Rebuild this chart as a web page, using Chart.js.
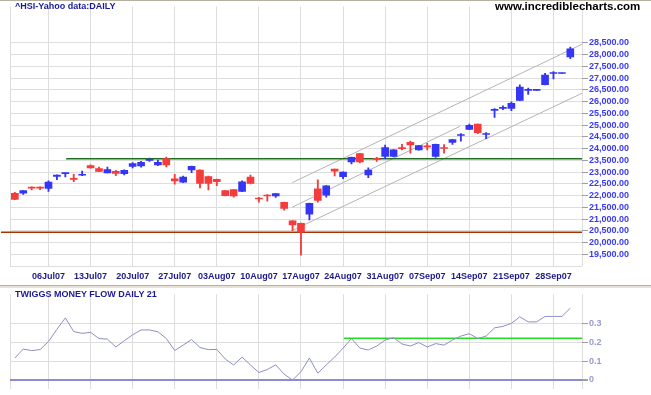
<!DOCTYPE html>
<html>
<head>
<meta charset="utf-8">
<script src="https://cdn.jsdelivr.net/npm/chart.js@4.4.0/dist/chart.umd.min.js"></script>
<style>
  html, body { margin: 0; padding: 0; background: #fff; }
  body { width: 651px; height: 395px; position: relative; overflow: hidden; font-family: 'Liberation Sans', Arial, sans-serif; }
  #priceChart { position: absolute; left: 0; top: 0; }
  #tmfChart { position: absolute; left: 0; top: 288px; }
  .txt { position: absolute; white-space: nowrap; line-height: 1; }
  #topLine { position: absolute; left: 0; top: 0; width: 651px; height: 1px; background: #b4b0a2; }
  #sepDark { position: absolute; left: 0; top: 285px; width: 651px; height: 1px; background: #b4b0a2; }
  #sepLight { position: absolute; left: 0; top: 286px; width: 651px; height: 2px; background: #e6e2d6; }
</style>
</head>
<body>
<canvas id="priceChart" width="651" height="285"></canvas>
<canvas id="tmfChart" width="651" height="107"></canvas>
<div id="topLine"></div>
<div id="sepDark"></div>
<div id="sepLight"></div>
<div class="txt" style="left:15px;top:2px;font-size:9px;font-weight:bold;color:#1a1a96;">^HSI-Yahoo data:DAILY</div>
<div class="txt" style="left:495px;top:1px;font-size:11.5px;font-weight:bold;color:#000;">www.incrediblecharts.com</div>
<div class="txt" style="left:15px;top:290px;font-size:9px;font-weight:bold;color:#1a1a96;">TWIGGS MONEY FLOW DAILY 21</div>
<script>
// weekly tick positions (trading day index) and their labels
const tickIdx = [4, 9, 14, 19, 24, 29, 34, 39, 44, 49, 54, 59, 64];
const tickLabels = ['06Jul07', '13Jul07', '20Jul07', '27Jul07', '03Aug07', '10Aug07', '17Aug07',
    '24Aug07', '31Aug07', '07Sep07', '14Sep07', '21Sep07', '28Sep07'];

const priceTicks = [19000, 19500, 20000, 20500, 21000, 21500, 22000, 22500, 23000, 23500,
    24000, 24500, 25000, 25500, 26000, 26500, 27000, 27500, 28000, 28500];
const tmfTicks = [0, 0.1, 0.2, 0.3];

const openP = [22100, 22100, 22325, 22325, 22304, 22821, 22935, 22705, 22865, 23280,
    23155, 22970, 23030, 22930, 23237, 23262, 23500, 23304, 23571, 22708,
    22571, 23096, 23083, 22804, 22696, 22208, 22250, 22179, 22792, 21870,
    22000, 21988, 21708, 20929, 20821, 21208, 22292, 22013, 23125, 22804,
    23429, 23792, 22875, 23560, 23667, 23667, 24030, 24263, 23946, 24090,
    23667, 24020, 24263, 24560, 24821, 25042, 24600, 25630, 25715, 25708,
    26054, 26480, 26480, 26721, 27200, 27200, 27904];
const highP = [22140, 22215, 22375, 22375, 22625, 22885, 22955, 22905, 23040, 23305,
    23210, 23210, 23070, 23095, 23405, 23458, 23595, 23512, 23637, 22904,
    22833, 23260, 23100, 22833, 22700, 22215, 22260, 22625, 22875, 21929,
    22042, 22090, 21720, 20940, 20830, 21680, 22667, 22430, 23130, 23010,
    23640, 23800, 23179, 23625, 24154, 23960, 24179, 24321, 24140, 24221,
    24190, 24167, 24400, 24638, 25042, 25050, 24679, 25708, 25821, 25988,
    26721, 26583, 26495, 27208, 27279, 27215, 28321];
const lowP = [21830, 22054, 22240, 22250, 22180, 22680, 22790, 22595, 22845, 23170,
    23020, 22960, 22845, 22875, 23180, 23208, 23458, 23279, 23221, 22487,
    22554, 22971, 22321, 22237, 22420, 21990, 21929, 22170, 22500, 21721,
    21763, 21917, 21375, 20500, 19460, 20958, 21721, 21929, 22833, 22721,
    23346, 23388, 22763, 23458, 23571, 23650, 23946, 23804, 23930, 23946,
    23625, 23804, 24179, 24321, 24810, 24638, 24429, 25333, 25654, 25613,
    26040, 26304, 26480, 26710, 26971, 27200, 27833];
const closeP = [21835, 22210, 22315, 22315, 22571, 22875, 22950, 22690, 22880, 23180,
    23030, 23110, 22945, 23070, 23362, 23417, 23542, 23417, 23304, 22625,
    22792, 23250, 22513, 22513, 22596, 22000, 21988, 22583, 22513, 21855,
    21980, 22083, 21458, 20750, 20446, 21667, 21792, 22417, 23042, 23000,
    23625, 23429, 23083, 23545, 24042, 23946, 24000, 24154, 24125, 24075,
    24179, 24005, 24388, 24580, 24987, 24679, 24620, 25645, 25730, 25929,
    26625, 26495, 26490, 27137, 27215, 27210, 28250];

const tmf = [0.117, 0.165, 0.157, 0.162, 0.205, 0.270, 0.331, 0.258, 0.249, 0.254,
    0.221, 0.218, 0.176, 0.209, 0.241, 0.267, 0.267, 0.257, 0.221, 0.157,
    0.186, 0.216, 0.173, 0.162, 0.163, 0.112, 0.080, 0.122, 0.080, 0.040,
    0.056, 0.081, 0.031, 0.000, 0.044, 0.117, 0.036, 0.080, 0.122, 0.170,
    0.221, 0.170, 0.160, 0.181, 0.213, 0.226, 0.192, 0.181, 0.200, 0.176,
    0.194, 0.186, 0.213, 0.234, 0.247, 0.221, 0.234, 0.278, 0.286, 0.302,
    0.337, 0.310, 0.310, 0.339, 0.339, 0.339, 0.383];

// drawn lines: [dayIndex, value] end points
const channelUpper = [[32.97, 22552], [67.39, 28446]];
const channelMiddle = [[32.97, 21508], [52.89, 24950]];
const channelLower = [[33.08, 20534], [67.39, 26357]];
const resistanceLine = [[6.1, 23571], [67.39, 23571]];
const supportLine = [[-1.64, 20438], [67.39, 20438]];
const tmfLevel = [[39.1, 0.223], [67.39, 0.223]];

const X_MIN = -0.574, X_MAX = 67.39;
const UP = '#3535f5', DOWN = '#f43c3c';
const GRID = '#dddddd';

const candleColors = closeP.map((c, i) => c >= openP[i] ? UP : DOWN);
const pts = arr => arr.map(p => ({x: p[0], y: p[1]}));

function xScale(extra) {
    return Object.assign({
        type: 'linear', min: X_MIN, max: X_MAX, offset: false,
        afterBuildTicks: s => { s.ticks = [X_MIN, ...tickIdx, X_MAX].map(v => ({value: v})); },
        grid: {color: GRID, lineWidth: 1, drawTicks: false, offset: false},
        border: {display: false}
    }, extra);
}

function lineSet(data, color, width, extra) {
    return Object.assign({type: 'line', data: pts(data), borderColor: color, borderWidth: width,
        pointRadius: 0, tension: 0, fill: false}, extra || {});
}

new Chart(document.getElementById('priceChart'), {
    type: 'bar',
    data: {
        datasets: [
            {
                data: openP.map((o, i) => ({x: i, y: [o, closeP[i]]})),
                backgroundColor: candleColors, barThickness: 7, minBarLength: 1, grouped: false
            },
            {
                data: openP.map((o, i) => ({x: i, y: [lowP[i], highP[i]]})),
                backgroundColor: candleColors, barThickness: 1.2, grouped: false
            },
            lineSet(resistanceLine, '#1f6d1f', 1.5),
            lineSet(supportLine, '#a93300', 1.5, {clip: false}),
            lineSet(channelUpper, '#b4b4b4', 1),
            lineSet(channelMiddle, '#b4b4b4', 1),
            lineSet(channelLower, '#b4b4b4', 1)
        ]
    },
    options: {
        responsive: false,
        animation: false,
        layout: {padding: {left: 10, top: 2, right: 0, bottom: 0}},
        plugins: {legend: {display: false}, tooltip: {enabled: false}},
        scales: {
            x: xScale({
                afterFit: s => { s.height = 19; },
                ticks: {
                    autoSkip: false, maxRotation: 0, padding: 5, color: '#1a1a8c',
                    font: {family: "'Liberation Sans', Arial, sans-serif", size: 9, weight: 'bold'},
                    callback: v => {
                        const k = tickIdx.indexOf(v);
                        return k >= 0 ? tickLabels[k] : '';
                    }
                }
            }),
            y: {
                position: 'right', min: 19000, max: 30058,
                afterBuildTicks: s => { s.ticks = priceTicks.map(v => ({value: v})); },
                afterFit: s => { s.width = 69; },
                grid: {
                    color: GRID, tickLength: 6,
                    tickColor: c => (c.tick && c.tick.value === 19000) ? 'rgba(0,0,0,0)' : '#a0a0a0'
                },
                border: {display: false},
                ticks: {
                    autoSkip: false, padding: 1, color: '#3a3af0',
                    font: {family: "'Liberation Sans', Arial, sans-serif", size: 9, weight: 'bold'},
                    callback: v => v === 19000 ? '' :
                        v.toLocaleString('en-US', {minimumFractionDigits: 2, maximumFractionDigits: 2})
                }
            }
        }
    }
});

new Chart(document.getElementById('tmfChart'), {
    type: 'line',
    data: {
        datasets: [
            lineSet(tmf.map((v, i) => [i, v]), '#8e8ec8', 1),
            lineSet(tmfLevel, '#22dd22', 1.5)
        ]
    },
    options: {
        responsive: false,
        animation: false,
        layout: {padding: {left: 10, top: 0, right: 0, bottom: 0}},
        plugins: {legend: {display: false}, tooltip: {enabled: false}},
        scales: {
            x: xScale({
                afterFit: s => { s.height = 3; },
                ticks: {display: false}
            }),
            y: {
                position: 'right', min: -0.0459, max: 0.4565,
                afterBuildTicks: s => { s.ticks = tmfTicks.map(v => ({value: v})); },
                afterFit: s => { s.width = 69; },
                grid: {
                    color: c => (c.tick && c.tick.value === 0) ? '#8c8cd2' : GRID,
                    lineWidth: c => (c.tick && c.tick.value === 0) ? 2 : 1,
                    tickLength: 6, tickColor: '#a0a0a0'
                },
                border: {display: false},
                ticks: {
                    autoSkip: false, padding: 1, color: '#9a9ad0',
                    font: {family: "'Liberation Sans', Arial, sans-serif", size: 9, weight: 'bold'},
                    callback: v => v === 0 ? '0' : v.toFixed(1)
                }
            }
        }
    }
});
</script>
</body>
</html>
